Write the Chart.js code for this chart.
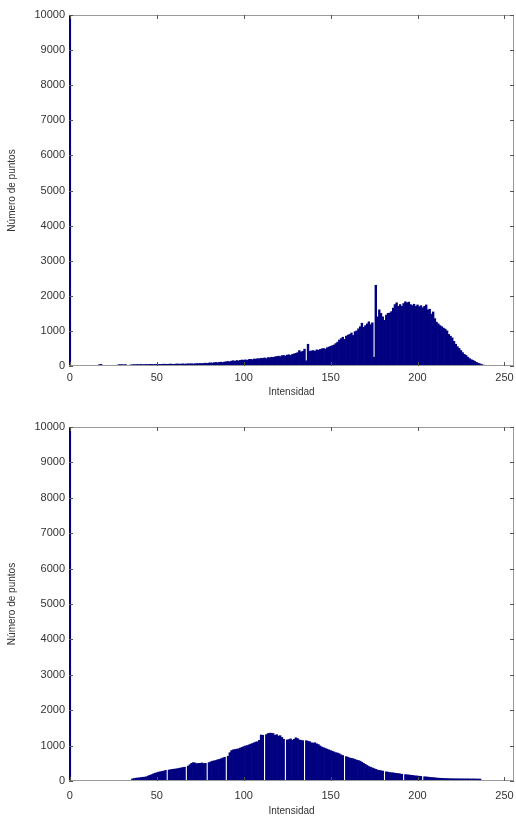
<!DOCTYPE html>
<html><head><meta charset="utf-8">
<script src="https://cdn.jsdelivr.net/npm/chart.js@4/dist/chart.umd.min.js"></script>
<style>
body{margin:0;background:#fff;width:516px;height:817px;overflow:hidden;position:relative}
#c1{position:absolute;left:0;top:0}
#c2{position:absolute;left:0;top:410px}
</style></head><body>
<canvas id="c1" width="516" height="400"></canvas>
<canvas id="c2" width="516" height="407"></canvas>
<script>
const xTicks = [0, 50, 100, 150, 200, 250];
const yTicks = [0, 1000, 2000, 3000, 4000, 5000, 6000, 7000, 8000, 9000, 10000];
const xLabel = 'Intensidad';
const yLabel = 'Número de puntos';

const topCounts = [
12000,0,0,0,0,0,0,0,0,0,
0,0,0,0,0,0,0,40,45,0,
0,0,0,0,0,0,0,0,35,40,
38,35,40,0,0,30,35,40,38,42,
40,45,38,42,44,40,46,48,42,45,
50,46,44,48,52,50,47,52,55,50,
48,55,58,52,56,60,54,58,62,60,
65,58,62,70,66,72,68,75,80,72,
85,90,82,95,100,92,105,110,98,115,
120,130,118,140,150,135,155,145,160,170,
165,175,160,185,190,180,200,195,210,205,
220,215,230,210,240,235,250,245,260,270,
280,265,295,300,285,310,320,300,330,345,
360,380,440,400,420,480,150,620,420,430,
440,420,460,450,470,490,500,480,520,540,
560,580,600,640,680,740,780,820,760,850,
880,900,940,870,980,1000,1060,1120,1220,1100,
1150,1200,1260,1180,1230,250,2300,1400,1600,1500,
1400,1300,1450,1500,1510,1550,1650,1750,1800,1700,
1750,1700,1780,1830,1800,1820,1750,1720,1760,1700,
1740,1690,1720,1660,1700,1740,1600,1620,1480,1540,
1350,1250,1200,1150,1120,1080,1050,1000,900,850,
800,700,620,550,500,440,380,330,300,250,
210,180,160,130,100,80,60,40,25,15,
10,0,0,0,0,0,0,0,0,0,
0,0,0,0,0,0
];

const bottomCounts = [
12000,0,0,0,0,0,0,0,0,0,
0,0,0,0,0,0,0,0,0,0,
0,0,0,0,0,0,0,0,0,0,
0,0,0,0,0,0,60,70,80,85,
90,100,105,110,120,140,160,180,200,220,
235,250,260,270,280,300,0,310,320,330,
335,340,350,360,370,380,390,0,420,460,
500,520,510,490,500,500,510,495,500,0,
520,540,560,570,580,600,610,630,650,670,
0,700,800,860,880,890,900,910,930,950,
970,990,1000,1020,1040,1060,1080,1100,1110,1150,
1300,1290,0,1310,1340,1350,1350,1340,1290,1310,
1270,1280,1230,1180,0,1160,1170,1190,1150,1180,
1220,1200,1160,1150,1140,0,1140,1120,1110,1080,
1070,1080,1050,1030,990,960,940,920,900,880,
860,840,820,800,790,770,740,720,0,690,
670,650,640,630,610,590,580,560,530,500,
470,440,410,390,370,350,330,310,300,290,
280,0,260,250,240,235,230,220,215,210,
200,190,0,180,175,170,165,160,150,145,
140,135,130,0,120,115,110,105,100,95,
90,85,80,78,75,72,70,68,66,65,
64,63,62,62,61,60,60,60,60,60,
58,58,58,57,56,55,55,0,0,0,
0,0,0,0,0,0,0,0,0,0,
0,0,0,0,0,0
];

const barColor = '#000080';
const textColor = '#333333';
const FONT = "'Liberation Sans', Arial, sans-serif";

const frameTicks = {
  id: 'frameTicks',
  afterDraw(chart) {
    const {ctx, chartArea: a, scales: {x, y}} = chart;
    ctx.save();
    ctx.strokeStyle = '#9a9a9a';
    ctx.lineWidth = 1;
    ctx.beginPath();
    ctx.moveTo(a.left, a.top + 0.5); ctx.lineTo(a.right, a.top + 0.5);
    ctx.moveTo(a.right - 0.5, a.top); ctx.lineTo(a.right - 0.5, a.bottom);
    ctx.moveTo(a.left, a.bottom - 0.5); ctx.lineTo(a.right, a.bottom - 0.5);
    ctx.stroke();
    ctx.strokeStyle = '#555';
    ctx.beginPath();
    xTicks.forEach(v => {
      const px = Math.round(x.getPixelForValue(v)) + 0.5;
      ctx.moveTo(px, a.bottom); ctx.lineTo(px, a.bottom - 4);
      ctx.moveTo(px, a.top); ctx.lineTo(px, a.top + 4);
    });
    yTicks.forEach(v => {
      const py = Math.round(y.getPixelForValue(v)) + 0.5;
      ctx.moveTo(a.left, py); ctx.lineTo(a.left + 4, py);
      ctx.moveTo(a.right, py); ctx.lineTo(a.right - 4, py);
    });
    ctx.stroke();
    ctx.restore();
  }
};

function makeChart(id, counts, padTop, xHeight, tickPad, titlePadBottom) {
  return new Chart(document.getElementById(id), {
    type: 'bar',
    data: {
      datasets: [{
        data: counts.map((v, i) => ({x: i, y: v})),
        backgroundColor: barColor,
        borderWidth: 0,
        barPercentage: 1,
        categoryPercentage: 1
      }]
    },
    options: {
      responsive: false,
      animation: false,
      devicePixelRatio: 1,
      layout: {padding: {top: padTop, right: 2, left: 0, bottom: 0}},
      plugins: {legend: {display: false}, tooltip: {enabled: false}},
      scales: {
        x: {
          type: 'linear', min: -0.5, max: 255.5, offset: false,
          afterBuildTicks: s => { s.ticks = xTicks.map(v => ({value: v})); },
          afterFit: s => { s.height = xHeight; s.paddingRight = 0; s.paddingLeft = 0; },
          grid: {display: false, drawTicks: false, offset: false},
          border: {display: false},
          ticks: {color: textColor, font: {family: FONT, size: 11}, padding: tickPad, maxRotation: 0, autoSkip: false},
          title: {display: true, text: xLabel, color: textColor, font: {family: FONT, size: 10}, padding: {top: 0, bottom: titlePadBottom}}
        },
        y: {
          min: 0, max: 10000,
          afterBuildTicks: s => { s.ticks = yTicks.map(v => ({value: v})); },
          afterFit: s => { s.width = 69; s.paddingTop = 0; s.paddingBottom = 0; },
          grid: {display: false, drawTicks: false},
          border: {display: false},
          ticks: {color: textColor, font: {family: FONT, size: 11}, padding: 4, callback: v => String(v)},
          title: {display: true, text: yLabel, color: textColor, font: {family: FONT, size: 10}, padding: {top: 6, bottom: 0}}
        }
      }
    },
    plugins: [frameTicks]
  });
}

makeChart('c1', topCounts, 15, 34, 5, 2);
makeChart('c2', bottomCounts, 17, 36, 8, 0);
</script>
</body></html>
